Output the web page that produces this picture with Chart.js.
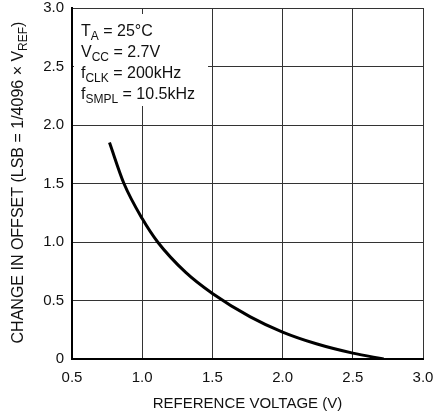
<!DOCTYPE html>
<html>
<head>
<meta charset="utf-8">
<script src="https://cdn.jsdelivr.net/npm/chart.js@4/dist/chart.umd.min.js"></script>
<style>
  html, body { margin: 0; padding: 0; background: #fff; }
  #wrap { width: 438px; height: 419px; }
</style>
</head>
<body>
<div id="wrap"><canvas id="offsetChart" width="438" height="419"></canvas></div>
<script>
// values
const refVoltage = [0.767, 0.87, 1.0, 1.11, 1.31, 1.5, 1.77, 2.0, 2.24, 2.5, 2.72];
const offsetChange = [1.85, 1.5, 1.2, 1.0, 0.74, 0.56, 0.36, 0.23, 0.13, 0.05, 0.0];
const conditions = [
  ["T", "A", " = 25°C"],
  ["V", "CC", " = 2.7V"],
  ["f", "CLK", " = 200kHz"],
  ["f", "SMPL", " = 10.5kHz"]
];

const FONT = "'Liberation Sans', Arial, sans-serif";

// draws text with a subscript part, returns end x
function subText(ctx, x, y, base, sub, rest, size) {
  ctx.font = size + "px " + FONT;
  ctx.fillText(base, x, y);
  x += ctx.measureText(base).width;
  ctx.font = Math.round(size * 0.78) + "px " + FONT;
  ctx.fillText(sub, x, y + size * 0.28);
  x += ctx.measureText(sub).width;
  ctx.font = size + "px " + FONT;
  ctx.fillText(rest, x, y);
  return x + ctx.measureText(rest).width;
}

const notesPlugin = {
  id: "notes",
  afterDraw(chart) {
    const ctx = chart.ctx;
    const area = chart.chartArea;
    ctx.save();
    // white box behind the conditions
    ctx.fillStyle = "#fff";
    ctx.fillRect(area.left + 2, area.top + 6, 134, 92);
    ctx.fillStyle = "#111";
    ctx.textBaseline = "alphabetic";
    conditions.forEach(function (c, i) {
      subText(ctx, area.left + 9, area.top + 28 + i * 21, c[0], c[1], c[2], 16);
    });

    // y axis title, rotated, with subscript
    ctx.translate(19, (area.top + area.bottom) / 2 - 1);
    ctx.rotate(-Math.PI / 2);
    ctx.textBaseline = "middle";
    const size = 16;
    ctx.font = size + "px " + FONT;
    const main = "CHANGE IN OFFSET (LSB = 1/4096 × V";
    ctx.font = Math.round(size * 0.78) + "px " + FONT;
    const subW = ctx.measureText("REF").width;
    ctx.font = size + "px " + FONT;
    const total = ctx.measureText(main).width + subW + ctx.measureText(")").width;
    subText(ctx, -total / 2, 0, main, "REF", ")", size);
    ctx.restore();
  }
};

new Chart(document.getElementById("offsetChart").getContext("2d"), {
  type: "scatter",
  data: {
    datasets: [{
      data: refVoltage.map(function (v, i) { return { x: v, y: offsetChange[i] }; }),
      showLine: true,
      borderColor: "#000",
      borderWidth: 3,
      pointRadius: 0,
      cubicInterpolationMode: "monotone",
      fill: false
    }]
  },
  options: {
    responsive: false,
    animation: false,
    layout: { padding: { left: 0, right: 15, top: 8, bottom: 6 } },
    plugins: {
      legend: { display: false },
      tooltip: { enabled: false }
    },
    scales: {
      x: {
        type: "linear",
        min: 0.5,
        max: 3.0,
        afterFit: function (s) { s.height = 54; s.paddingLeft = 0; s.paddingRight = 0; },
        ticks: {
          stepSize: 0.5,
          color: "#111",
          font: { family: FONT, size: 15 },
          padding: 10,
          callback: function (v) { return v.toFixed(1); }
        },
        grid: { color: "#333", lineWidth: 1, drawTicks: false },
        border: { color: "#000", width: 2 },
        title: {
          display: true,
          text: "REFERENCE VOLTAGE (V)",
          color: "#111",
          font: { family: FONT, size: 15 },
          padding: { top: 4, bottom: 0 }
        }
      },
      y: {
        min: 0,
        max: 3.0,
        afterFit: function (s) { s.width = 72; s.paddingTop = 0; s.paddingBottom = 0; },
        ticks: {
          stepSize: 0.5,
          color: "#111",
          font: { family: FONT, size: 15 },
          padding: 8,
          callback: function (v) { return v === 0 ? "0" : v.toFixed(1); }
        },
        grid: { color: "#333", lineWidth: 1, drawTicks: false },
        border: { color: "#000", width: 2 }
      }
    }
  },
  plugins: [notesPlugin]
});
</script>
</body>
</html>
